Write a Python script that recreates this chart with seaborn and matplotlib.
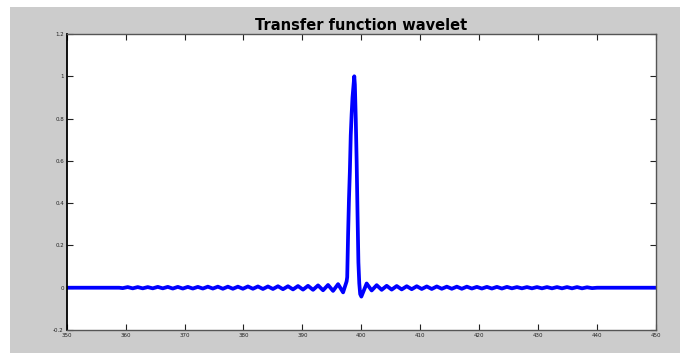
import matplotlib
matplotlib.use("Agg")
import matplotlib.pyplot as plt
from matplotlib.patches import Rectangle
import seaborn as sns
import pandas as pd

# Sampled wavelet: leading ripples, main lobe, trailing ripples
lead_x = [350.0, 358.9, 359.5, 360.35, 361.2, 362.05, 362.9, 363.75, 364.6, 365.45,
          366.3, 367.15, 368.0, 368.85, 369.7, 370.55, 371.4, 372.25, 373.1,
          373.95, 374.8, 375.65, 376.5, 377.35, 378.2, 379.05, 379.9, 380.75,
          381.6, 382.45, 383.3, 384.15, 385.0, 385.85, 386.7, 387.55, 388.4,
          389.25, 390.1, 390.95, 391.8, 392.65, 393.5, 394.35, 395.2, 396.05,
          396.9]
lead_y = [0.0, 0.0, -0.002, 0.003, -0.003, 0.003, -0.003, 0.003, -0.003, 0.004,
          -0.003, 0.004, -0.004, 0.004, -0.004, 0.004, -0.004, 0.004, -0.004,
          0.005, -0.004, 0.005, -0.005, 0.005, -0.005, 0.005, -0.005, 0.006,
          -0.005, 0.006, -0.006, 0.006, -0.006, 0.007, -0.007, 0.007, -0.008,
          0.008, -0.009, 0.009, -0.010, 0.011, -0.012, 0.013, -0.015, 0.017,
          -0.022]

lobe_x = [397.5, 397.6, 397.75, 397.9, 398.05, 398.2, 398.35, 398.5, 398.65,
          398.8, 398.9, 399.05, 399.2, 399.35, 399.5, 399.65, 399.8, 400.0]
lobe_y = [0.03, 0.05, 0.25, 0.42, 0.55, 0.72, 0.82, 0.90, 0.95,
          1.00, 0.96, 0.80, 0.60, 0.35, 0.12, 0.02, -0.03, -0.042]

tail_x = [400.9, 401.75, 402.6, 403.45, 404.3, 405.15, 406.0, 406.85, 407.7,
          408.55, 409.4, 410.25, 411.1, 411.95, 412.8, 413.65, 414.5, 415.35,
          416.2, 417.05, 417.9, 418.75, 419.6, 420.45, 421.3, 422.15, 423.0,
          423.85, 424.7, 425.55, 426.4, 427.25, 428.1, 428.95, 429.8, 430.65,
          431.5, 432.35, 433.2, 434.05, 434.9, 435.75, 436.6, 437.45, 438.3,
          439.15, 440.0, 450.0]
tail_y = [0.020, -0.013, 0.012, -0.010, 0.009, -0.009, 0.008, -0.008, 0.007,
          -0.007, 0.007, -0.006, 0.006, -0.006, 0.006, -0.005, 0.005, -0.005,
          0.005, -0.005, 0.005, -0.004, 0.004, -0.004, 0.004, -0.004, 0.004,
          -0.004, 0.004, -0.003, 0.003, -0.003, 0.003, -0.003, 0.003, -0.003,
          0.003, -0.003, 0.003, -0.003, 0.003, -0.003, 0.003, -0.003, 0.002,
          -0.002, 0.0, 0.0]

x_ticks = [350, 360, 370, 380, 390, 400, 410, 420, 430, 440, 450]
y_ticks = [-0.2, 0, 0.2, 0.4, 0.6, 0.8, 1, 1.2]
y_labels = ["-0.2", "0", "0.2", "0.4", "0.6", "0.8", "1", "1.2"]

df = pd.DataFrame({"t": lead_x + lobe_x + tail_x,
                   "amp": lead_y + lobe_y + tail_y})

sns.set_style("ticks")
plt.rcParams["font.family"] = ["DejaVu Sans"]

fig = plt.figure(figsize=(6.8, 3.54), dpi=100, facecolor="white")
# grey window panel behind the axes
panel = Rectangle((10 / 680, 1 / 354), 670 / 680, 346 / 354,
                  transform=fig.transFigure, facecolor="#cccccc",
                  edgecolor="none", zorder=-10)
fig.add_artist(panel)
ax = fig.add_axes([66.7 / 680, 1 - 330 / 354, (656 - 66.7) / 680, (330 - 34) / 354])
ax.set_zorder(5)
ax.set_facecolor("white")

sns.lineplot(data=df, x="t", y="amp", ax=ax, color="#0000ff", linewidth=2.7,
             estimator=None, sort=False)

ax.set_xlim(350, 450)
ax.set_ylim(-0.2, 1.2)
ax.set_xticks(x_ticks)
ax.set_xticklabels([str(v) for v in x_ticks])
ax.set_yticks(y_ticks)
ax.set_yticklabels(y_labels)
ax.tick_params(direction="in", length=4, width=0.8, colors="#222222",
               labelsize=4, top=True, right=True, pad=2)
ax.set_xlabel("")
ax.set_ylabel("")

for side in ["top", "bottom", "right"]:
    ax.spines[side].set_visible(True)
    ax.spines[side].set_color("#555555")
    ax.spines[side].set_linewidth(1.0)
ax.spines["left"].set_color("black")
ax.spines["left"].set_linewidth(1.3)

ax.set_title("Transfer function wavelet", fontsize=10.5, fontweight="bold",
             color="black", pad=3)

fig.savefig("out.png", dpi=100, facecolor="white")
